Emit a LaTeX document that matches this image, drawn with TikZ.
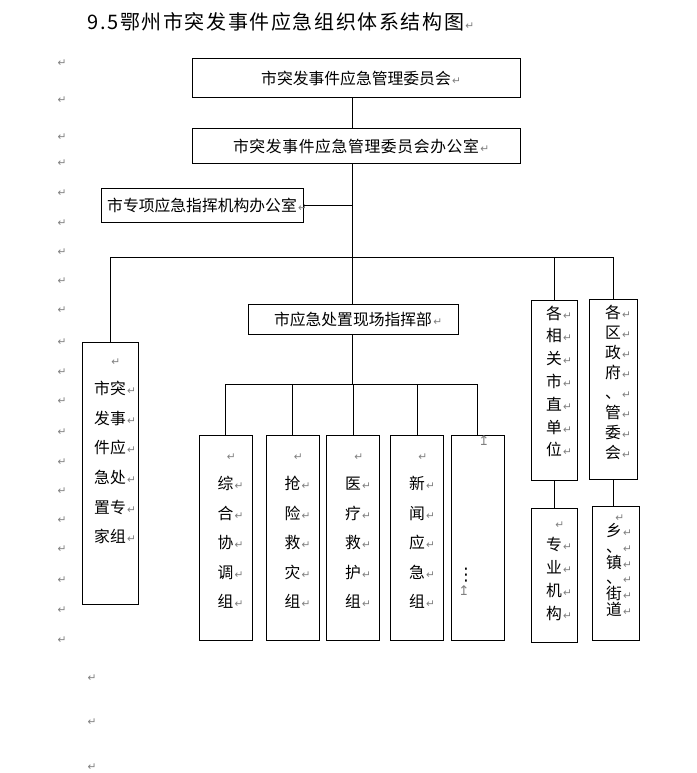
\documentclass[tikz,border=0pt]{standalone}
\usepackage{fontspec}
\setmainfont{Noto Sans CJK SC}
\newfontfamily\markfont{DejaVu Sans}
\newfontfamily\titlefont[LetterSpace=8]{Noto Sans CJK SC}
\usetikzlibrary{positioning}
\definecolor{retgray}{RGB}{128,128,128}
% paragraph mark hanging right of the text
\newcommand{\pmark}{\rlap{\kern1pt\markfont\fontsize{8}{8}\selectfont\textcolor{retgray}{↵}}}
\tikzset{
  boxsize/.style 2 args={minimum width=#1*0.75pt, minimum height=#2*0.75pt},
  box/.style={draw, inner sep=0, text height=10.4pt, text depth=1.4pt, font=\fontsize{11.85}{14}\selectfont},
  ln/.style={inner sep=0, text height=10.4pt, text depth=1.4pt, font=\fontsize{11.85}{14}\selectfont},
  mk/.style={inner sep=0, text=retgray, font=\markfont\fontsize{8}{8}\selectfont},
  titletext/.style={inner sep=0, text height=13pt, text depth=2pt, font=\titlefont\fontsize{15}{18}\selectfont}
}
\begin{document}
\begin{tikzpicture}[x=0.75pt, y=-0.75pt, line width=0.75pt]
    \path[fill=white, use as bounding box] (0,0) rectangle (696,773);

    % Title
    \node[titletext, anchor=west] (title) at (87,22.5) {9.5鄂州市突发事件应急组织体系结构图\pmark};

    % Upper boxes
    \node[box, boxsize={328}{39}] (wyh) at (356,78.5) {市突发事件应急管理委员会\pmark};
    \node[box, boxsize={328}{35}] (bgs) at (356,146.5) {{\addfontfeature{LetterSpace=4}市突发事件应急管理委员会办公室}\pmark};
    \node[box, boxsize={202}{34}] (zxb) at (202,206) {市专项应急指挥机构办公室\pmark};
    \node[box, boxsize={210}{30}] (zhb) at (353,319) {市应急处置现场指挥部\pmark};
    \coordinate (trunk) at (352,0);
    \coordinate (bus) at (0,258);
    \coordinate (bus2) at (0,384);

    % Expert group
    \node[box, boxsize={56}{262}] (zjz) at (110,473) {};
    \foreach \txt [count=\i from 0] in {{}, 市突, 发事, 件应, 急处, 置专, 家组}
        \node[ln] (zjz-\i) at (110,359+29.6*\i) {\txt\pmark};

    % Working groups
    \foreach \nm/\x/\a/\b/\c/\d/\e in {g1/225.5/综/合/协/调/组, g2/292.5/抢/险/救/灾/组, g3/353/医/疗/救/护/组, g4/417/新/闻/应/急/组} {
        \node[box, boxsize={53}{205}] (\nm) at (\x,537.5) {};
        \foreach \txt [count=\i from 0] in {{}, \a, \b, \c, \d, \e}
            \node[ln] (\nm-\i) at (\x,454+29.5*\i) {\txt\pmark};
    }
    \node[box, boxsize={53}{205}] (g5) at (477.5,537.5) {};
    \node[mk, font=\markfont\fontsize{10}{10}\selectfont] (g5-top) at (484,441) {↥};
    \node[inner sep=0, font=\markfont\fontsize{13}{13}\selectfont] (g5-dots) at (466,575) {⋮};
    \node[mk, font=\markfont\fontsize{10}{10}\selectfont] (g5-end) at (464,591) {↥};

    % Right columns
    \node[box, boxsize={46}{180}] (szdw) at (554,390) {};
    \foreach \txt [count=\i from 0] in {各, 相, 关, 市, 直, 单, 位}
        \node[ln] (szdw-\i) at (554,313+22.8*\i) {\txt\pmark};
    \node[box, boxsize={48}{180}] (qzf) at (613,389) {};
    \foreach \txt [count=\i from 0] in {各, 区, 政, 府, 、, 管, 委, 会}
        \node[ln] (qzf-\i) at (613,312+20*\i) {\txt\pmark};
    \node[box, boxsize={46}{134}] (zyjg) at (554,575) {};
    \foreach \txt [count=\i from 0] in {{}, 专, 业, 机, 构}
        \node[ln] (zyjg-\i) at (554,522+22.75*\i) {\txt\pmark};
    \node[box, boxsize={47}{134}] (xzjd) at (615.5,573) {};
    \foreach \txt [count=\i from 0] in {{}, 乡, 、, 镇, 、, 街, 道}
        \node[ln] (xzjd-\i) at (614,515+15.7*\i) {\txt\pmark};

    % Connectors
    \draw (wyh.south -| trunk) -- (bgs.north -| trunk);
    \draw (bgs.south -| trunk) -- (zhb.north -| trunk);
    \draw (zxb.east) -- (zxb.east -| trunk);
    \draw (zjz.north) -- (zjz.north |- bus) -- (qzf.north |- bus) -- (qzf.north);
    \draw (szdw.north) -- (szdw.north |- bus);
    \draw (zhb.south -| trunk) -- (bus2 -| trunk);
    \draw (g1.north) -- (g1.north |- bus2) -- (g5.north |- bus2) -- (g5.north);
    \foreach \nm in {g2, g3, g4}
        \draw (\nm.north) -- (\nm.north |- bus2);
    \draw (szdw.south) -- (zyjg.north);
    \draw (qzf.south) -- (qzf.south |- xzjd.north);

    % Margin marks
    \foreach \y in {63,100,137,163,193,223,252,281,310,342,372,401,432,462,491,520,549,580,610,640}
        \node[mk] (lm\y) at (62,\y) {↵};
    \foreach \y in {678,722,767}
        \node[mk] (bm\y) at (92,\y) {↵};
\end{tikzpicture}
\end{document}
